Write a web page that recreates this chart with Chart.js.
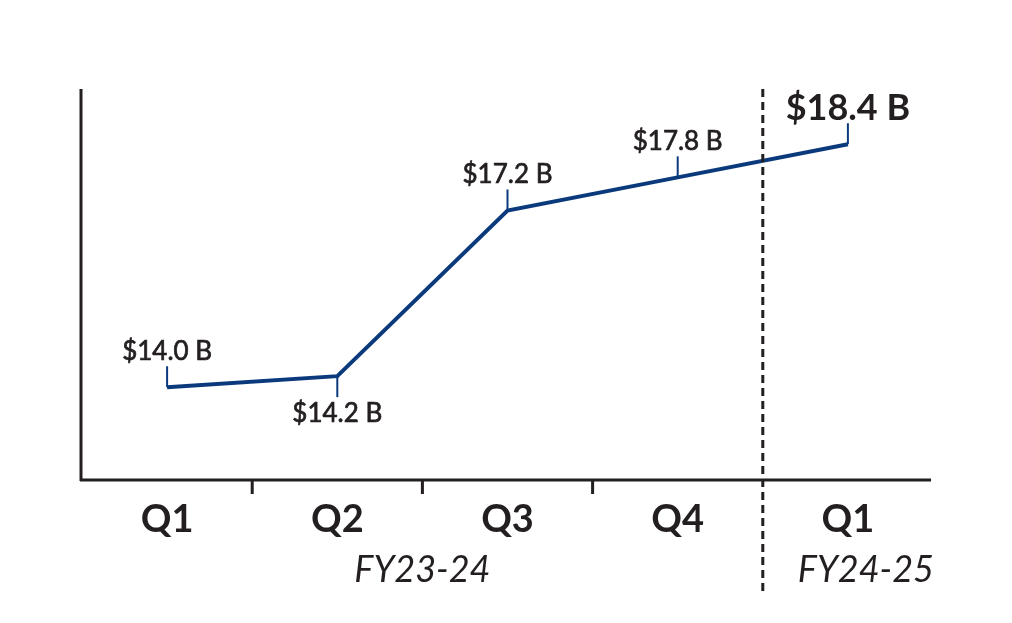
<!DOCTYPE html>
<html>
<head>
<meta charset="utf-8">
<script src="https://cdn.jsdelivr.net/npm/chart.js@4"></script>
<style>
  html, body { margin: 0; padding: 0; background: #fff; }
  canvas { display: block; }
</style>
</head>
<body>
<canvas id="revChart" width="1012" height="623"></canvas>
<script>
// data
const quarters = ['Q1', 'Q2', 'Q3', 'Q4', 'Q1'];
const revenue = [14.0, 14.2, 17.2, 17.8, 18.4];
const valueLabels = ['$14.0 B', '$14.2 B', '$17.2 B', '$17.8 B', '$18.4 B'];
const fiscalYears = ['FY23-24', 'FY24-25'];
const fiscalSpans = [[0, 3], [4, 4]]; // first/last quarter index of each year

const INK = '#231f20';
const NAVY = '#0b3a7c';

// axes, tick marks, dashed year divider, value labels and year labels
const decorations = {
  id: 'decorations',
  afterDatasetsDraw(chart) {
    const { ctx, chartArea: a, scales: { x } } = chart;
    const meta = chart.getDatasetMeta(0);
    ctx.save();

    // axis lines
    ctx.strokeStyle = INK;
    ctx.lineWidth = 3;
    ctx.beginPath();
    ctx.moveTo(a.left - 1, a.top);
    ctx.lineTo(a.left - 1, a.bottom + 1);
    ctx.moveTo(a.left - 2, a.bottom);
    ctx.lineTo(a.right - 2, a.bottom);
    ctx.stroke();

    // small ticks between quarters of the first year
    const mid = i => (x.getPixelForValue(i) + x.getPixelForValue(i + 1)) / 2;
    ctx.beginPath();
    for (let i = 0; i < 3; i++) {
      ctx.moveTo(mid(i), a.bottom);
      ctx.lineTo(mid(i), a.bottom + 14);
    }
    ctx.stroke();

    // dashed divider between fiscal years
    ctx.setLineDash([8, 5]);
    ctx.beginPath();
    ctx.moveTo(mid(3), a.top);
    ctx.lineTo(mid(3), 592);
    ctx.stroke();
    ctx.setLineDash([]);

    // value labels with short leader lines
    const below = new Set([1]);
    const last = revenue.length - 1;
    ctx.textAlign = 'center';
    ctx.textBaseline = 'alphabetic';
    meta.data.forEach((pt, i) => {
      const down = below.has(i);
      ctx.strokeStyle = NAVY;
      ctx.lineWidth = 2;
      ctx.beginPath();
      ctx.moveTo(pt.x, pt.y);
      ctx.lineTo(pt.x, down ? pt.y + 21 : pt.y - 21);
      ctx.stroke();

      ctx.fillStyle = INK;
      ctx.strokeStyle = INK;
      let ty;
      if (i === last) {
        ctx.font = 'bold 36px Lato';
        ty = pt.y - 24;
        ctx.fillText(valueLabels[i], pt.x, ty);
      } else {
        ctx.font = '26px Lato';
        ty = down ? pt.y + 46 : pt.y - 27;
        ctx.fillText(valueLabels[i], pt.x, ty);
        // thicken the regular face a little, the source uses a medium weight
        ctx.lineWidth = 0.7;
        ctx.strokeText(valueLabels[i], pt.x, ty);
      }
    });

    // fiscal year captions
    ctx.fillStyle = INK;
    ctx.font = 'italic 36px Lato';
    fiscalYears.forEach((fy, k) => {
      const [s, e] = fiscalSpans[k];
      let cx = (x.getPixelForValue(s) + x.getPixelForValue(e)) / 2;
      if (s === e) cx += 18;
      ctx.fillText(fy, cx, 582);
    });

    ctx.restore();
  }
};

new Chart(document.getElementById('revChart'), {
  type: 'line',
  data: {
    labels: quarters,
    datasets: [{
      data: revenue,
      borderColor: NAVY,
      borderWidth: 4,
      pointRadius: 0,
      tension: 0,
      borderJoinStyle: 'miter'
    }]
  },
  options: {
    responsive: false,
    animation: false,
    layout: { padding: { left: 82, right: 79, top: 89, bottom: 0 } },
    plugins: { legend: { display: false }, tooltip: { enabled: false } },
    scales: {
      x: {
        offset: true,
        grid: { display: false },
        border: { display: false },
        ticks: {
          color: INK,
          font: { family: 'Lato', size: 38, weight: 'bold' },
          padding: 9,
          maxRotation: 0,
          autoSkip: false
        },
        afterFit(scale) { scale.height = 143; }
      },
      y: {
        display: false,
        min: 12.32,
        max: 19.4
      }
    }
  },
  plugins: [decorations]
});
</script>
</body>
</html>
